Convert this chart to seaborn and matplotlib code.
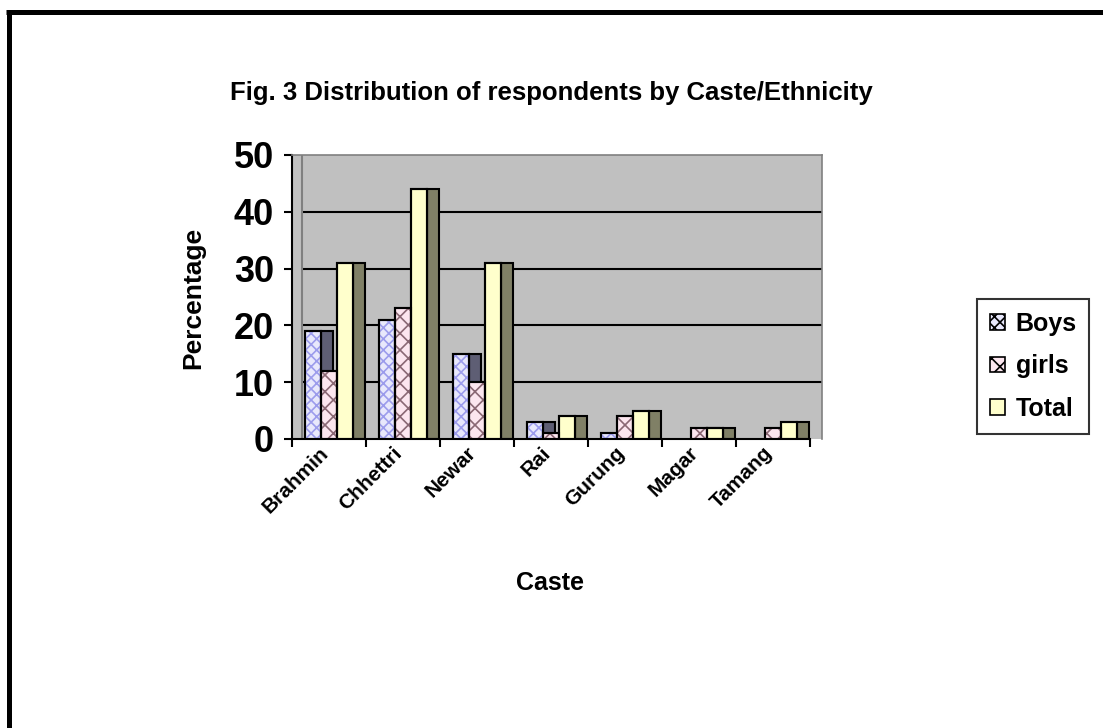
import matplotlib
matplotlib.use("Agg")
import matplotlib.pyplot as plt
from matplotlib.patches import Rectangle, Patch
from matplotlib.lines import Line2D
import pandas as pd
import seaborn as sns

# Survey results: share of respondents (%) per caste / ethnic group
castes = ["Brahmin", "Chhettri", "Newar", "Rai", "Gurung", "Magar", "Tamang"]
series = ["Boys", "girls", "Total"]
boys = [19, 21, 15, 3, 1, 0, 0]
girls = [12, 23, 10, 1, 4, 2, 2]
total = [31, 44, 31, 4, 5, 2, 3]
y_ticks = [0, 10, 20, 30, 40, 50]

front_colors = {"Boys": "#E8E8FC", "girls": "#FCE6EF", "Total": "#FFFFCC"}
hatch_styles = {"Boys": ("xxx", "#9C9CEC"), "girls": ("xx", "#8A6874"), "Total": (None, None)}
side_colors = {"Boys": "#5E5E74", "girls": "#A88898", "Total": "#808066"}

df = pd.DataFrame({
    "Caste": castes * len(series),
    "Series": [s for s in series for _ in castes],
    "Percentage": boys + girls + total,
})

sns.set_theme(style="white")
plt.rcParams["font.family"] = ["Liberation Sans", "DejaVu Sans"]
plt.rcParams["text.color"] = "black"
plt.rcParams["xtick.color"] = "black"
plt.rcParams["ytick.color"] = "black"
plt.rcParams["hatch.linewidth"] = 1.2

W, H = 1103, 728
fig = plt.figure(figsize=(W / 100, H / 100), dpi=100)
ax = fig.add_axes([292 / W, 1 - 439 / H, 530 / W, 284 / H])
ax.set_facecolor("#C0C0C0")

FRONT = 0.216   # width of a bar's front face (category units)
SIDE = 0.162    # depth of the shaded side face
EDGE = 1.5

sns.barplot(data=df, x="Caste", y="Percentage", hue="Series",
            order=castes, hue_order=series, palette=front_colors,
            width=3 * FRONT, dodge=True, saturation=1,
            edgecolor="black", linewidth=EDGE, legend=False,
            errorbar=None, ax=ax, zorder=3)

# side faces, hatch fills and outlines for the pseudo-3D columns
for name, cont in zip(series, ax.containers):
    hatch, hcol = hatch_styles[name]
    for bar in cont:
        x0, w, h = bar.get_x(), bar.get_width(), bar.get_height()
        if h <= 0:
            bar.set_visible(False)
            continue
        ax.add_patch(Rectangle((x0 + w, 0), SIDE, h, facecolor=side_colors[name],
                               edgecolor="black", linewidth=EDGE, zorder=2))
        if hatch:
            ax.add_patch(Rectangle((x0, 0), w, h, facecolor="none", edgecolor=hcol,
                                   hatch=hatch, linewidth=0, zorder=3.05))
        ax.add_patch(Rectangle((x0, 0), w, h, facecolor="none", edgecolor="black",
                               linewidth=EDGE, zorder=3.1))

cat_px = 74
xmax = -0.5 + 530 / cat_px
wall_x = -0.5 + 10 / cat_px
ax.set_xlim(-0.5, xmax)
ax.set_ylim(0, 50)

# back-wall gridlines and wall edge
ax.hlines(y_ticks[1:-1], wall_x, xmax, colors="black", linewidth=1.5, zorder=1)
ax.vlines(wall_x, 0, 50, colors="#808080", linewidth=1.5, zorder=1)

for s in ["top", "right"]:
    ax.spines[s].set_color("#808080")
    ax.spines[s].set_linewidth(1.2)
for s in ["left", "bottom"]:
    ax.spines[s].set_color("black")
    ax.spines[s].set_linewidth(1.5)
ax.spines["bottom"].set_bounds(-0.5, len(castes) - 0.5)

# category labels sit slightly left of each group centre (invisible major ticks)
label_shift = 0.14
ax.set_xticks([i - label_shift for i in range(len(castes))])
ax.set_xticklabels(castes, rotation=45, ha="right", rotation_mode="anchor",
                   fontsize=15, fontweight="bold")
ax.set_xticks([i - 0.5 for i in range(len(castes) + 1)], minor=True)
ax.tick_params(axis="x", which="major", length=0, pad=3)
ax.tick_params(axis="x", which="minor", length=6, width=1.5, color="black",
               direction="out", bottom=True)
ax.set_yticks(y_ticks)
ax.set_yticklabels([str(v) for v in y_ticks], fontsize=26, fontweight="bold")
ax.tick_params(axis="y", length=6, width=1.5, color="black", direction="out",
               left=True, pad=7)
ax.set_xlabel("")
ax.set_ylabel("")

fig.text(551 / W, 1 - 93 / H, "Fig. 3 Distribution of respondents by Caste/Ethnicity",
         ha="center", va="center", fontsize=18.5, fontweight="bold")
fig.text(193 / W, 1 - 298 / H, "Percentage", rotation=90, ha="center", va="center",
         fontsize=19, fontweight="bold")
fig.text(550 / W, 1 - 583 / H, "Caste", ha="center", va="center",
         fontsize=18, fontweight="bold")

handles = []
for name in series:
    hatch, hcol = hatch_styles[name]
    handles.append(Patch(facecolor=front_colors[name], edgecolor="black",
                         hatch=hatch, linewidth=1.2))
leg = fig.legend(handles, series, loc="upper left",
                 bbox_to_anchor=(977 / W, 1 - 299 / H),
                 prop={"size": 18, "weight": "bold"}, frameon=True,
                 fancybox=False, edgecolor="black", handlelength=0.6,
                 handleheight=0.6, handletextpad=0.45, labelspacing=0.75,
                 borderpad=0.5, borderaxespad=0)
leg.get_frame().set_linewidth(1.5)

# outer frame lines (top and left)
fig.add_artist(Line2D([6 / W, 1], [1 - 12 / H, 1 - 12 / H], color="black",
                      linewidth=3.6, solid_capstyle="butt"))
fig.add_artist(Line2D([8.5 / W, 8.5 / W], [0, 1 - 10 / H], color="black",
                      linewidth=3.6, solid_capstyle="butt"))

fig.savefig("out.png", dpi=100, facecolor="white")
